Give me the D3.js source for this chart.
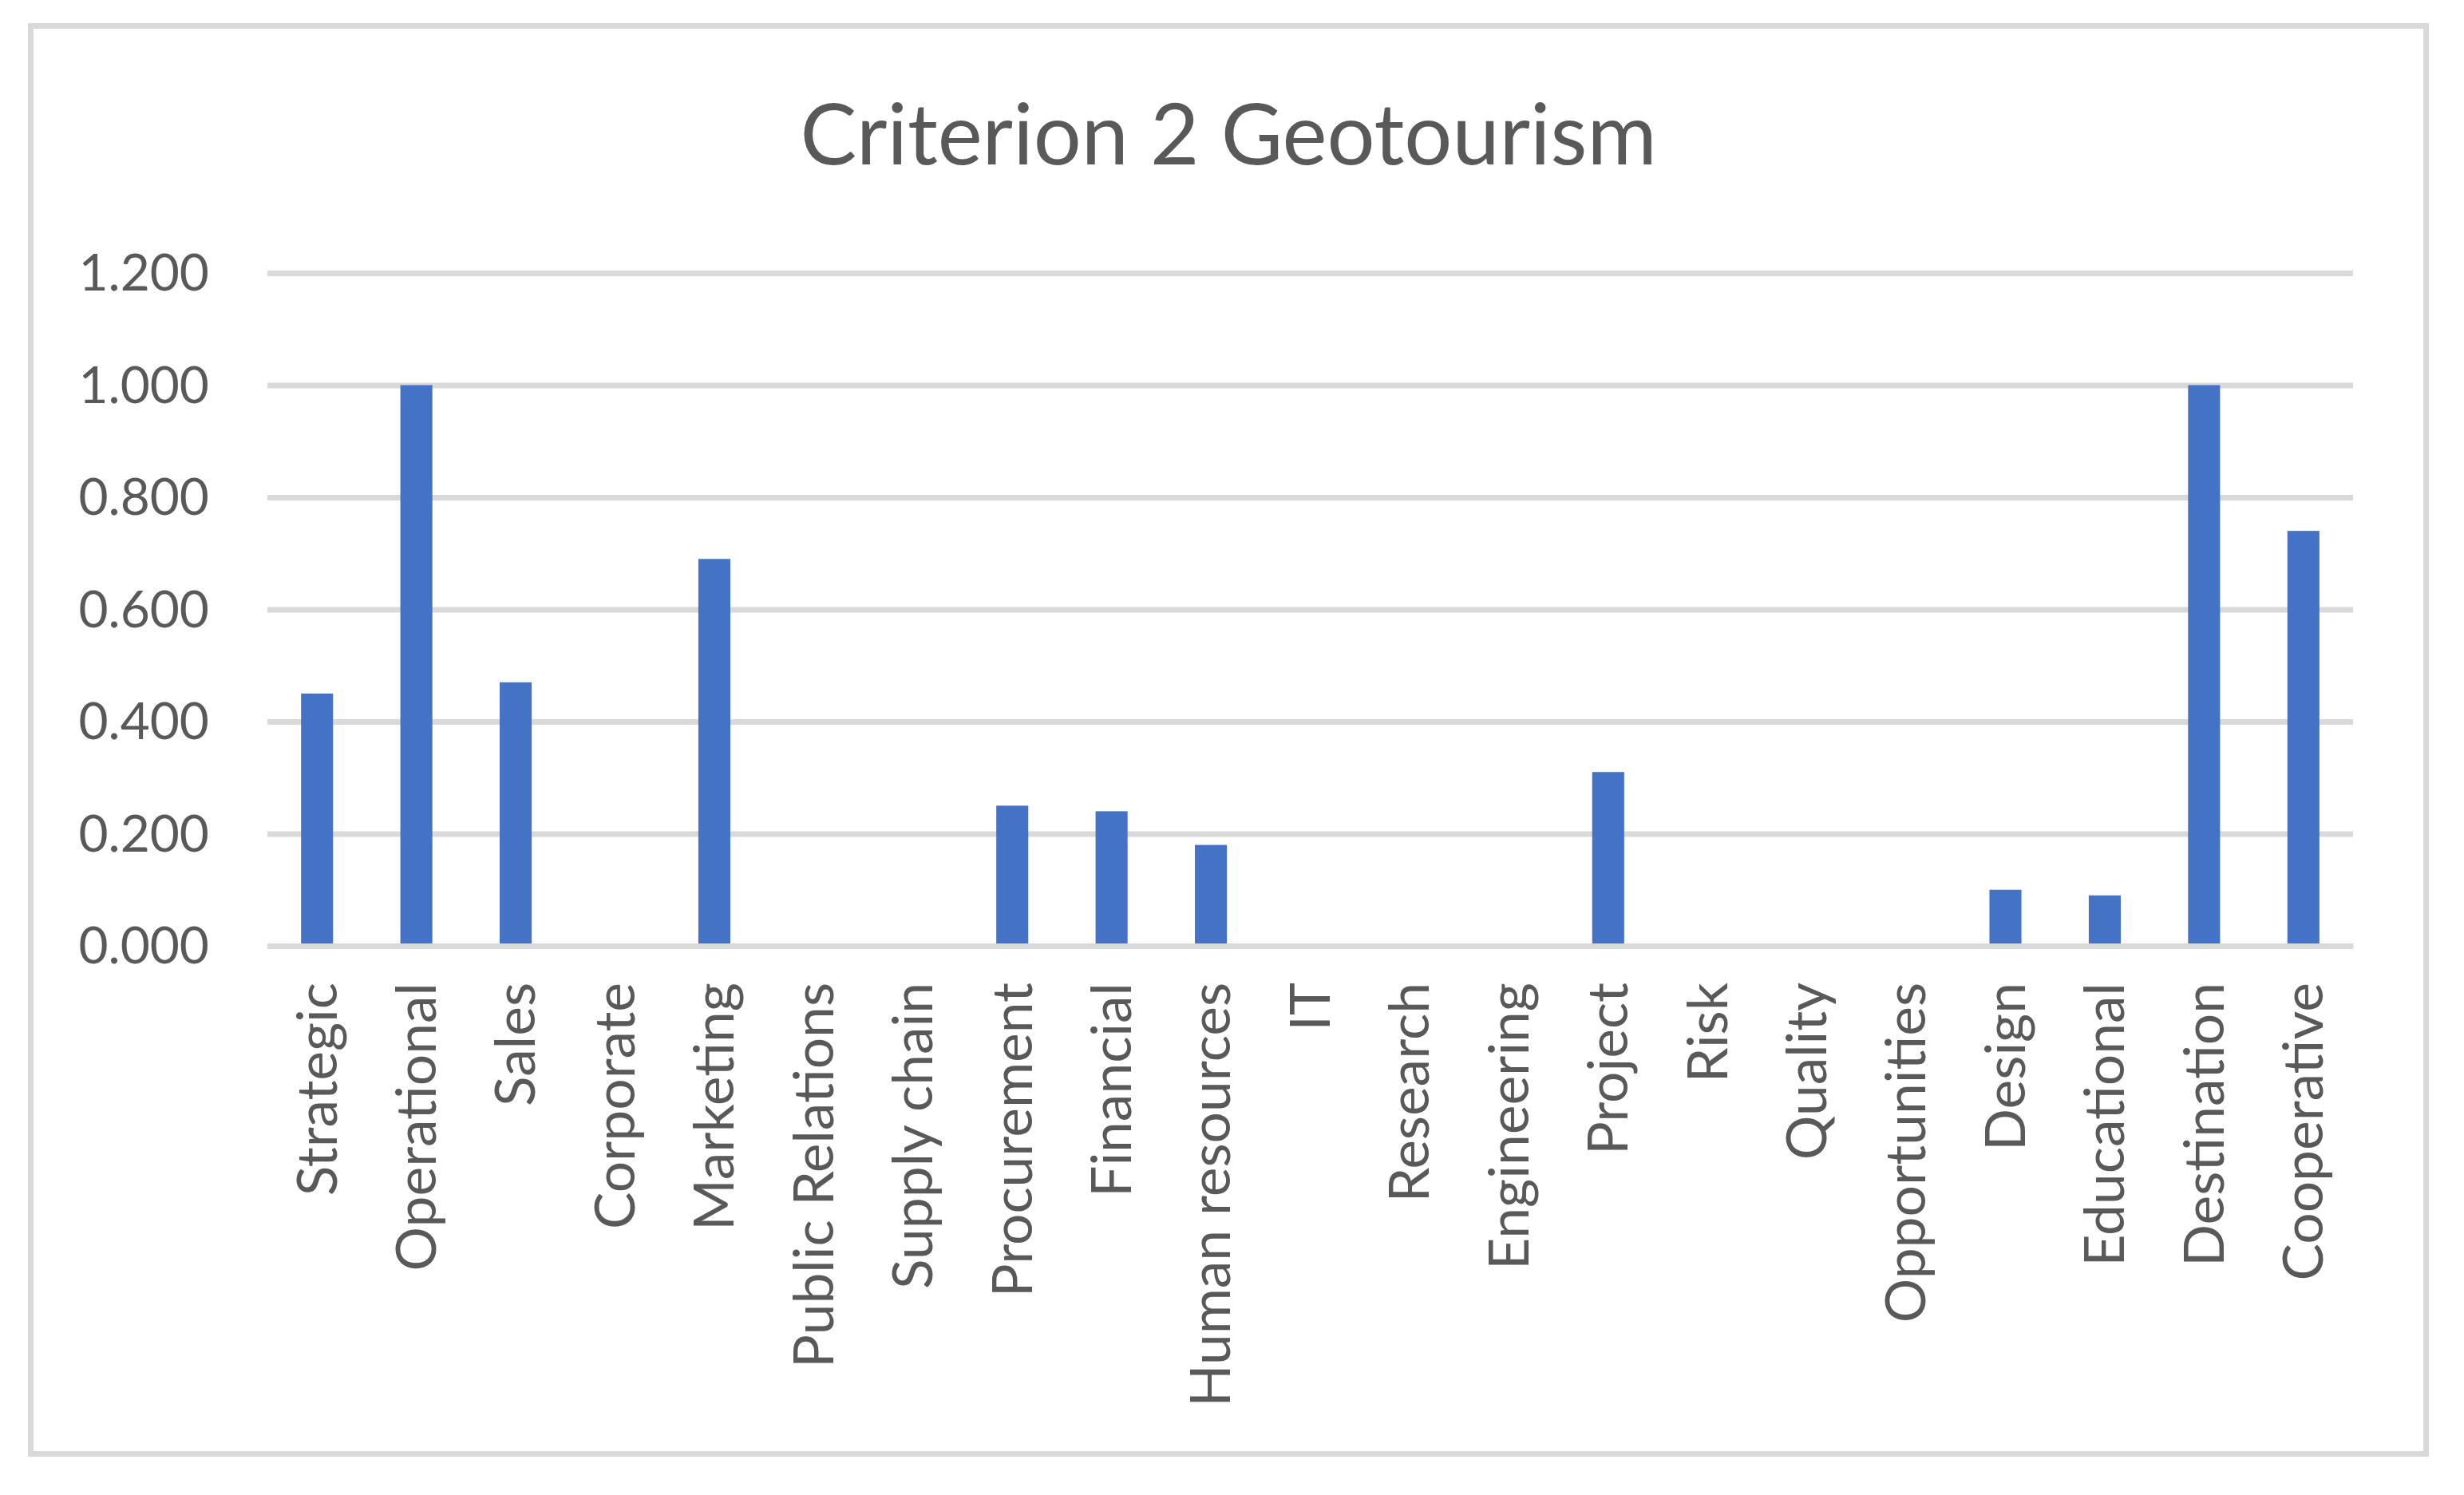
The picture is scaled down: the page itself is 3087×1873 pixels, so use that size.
<!DOCTYPE html>
<html>
<head>
<meta charset="utf-8">
<script src="https://cdn.jsdelivr.net/npm/d3@7"></script>
<style>
  html, body { margin: 0; padding: 0; background: #fff; }
  svg { display: block; }
</style>
</head>
<body>
<div id="chart"></div>
<script>
const title = "Criterion 2 Geotourism";

const categories = [
  "Strategic", "Operational", "Sales", "Corporate", "Marketing",
  "Public Relations", "Supply chain", "Procurement", "Financial",
  "Human resources", "IT", "Research", "Engineering", "Project", "Risk",
  "Quality", "Opportunities", "Design", "Educational", "Destination",
  "Cooperative"
];

const values = [
  0.45, 1.00, 0.47, 0, 0.69,
  0, 0, 0.25, 0.24,
  0.18, 0, 0, 0, 0.31, 0,
  0, 0, 0.10, 0.09, 1.00,
  0.74
];

const yTicks = [0, 0.2, 0.4, 0.6, 0.8, 1.0, 1.2];

const width = 3087;
const height = 1873;
const margin = ({top: 342, right: 139, bottom: 688, left: 335});
const font = "Lato, 'Open Sans', sans-serif";
const textColor = "#595959";
const gridColor = "#d9d9d9";

const data = categories.map((c, i) => ({ c, v: values[i] }));

const xScale = d3.scaleBand()
  .domain(categories)
  .range([margin.left, width - margin.right])
  .paddingInner(0.678)
  .paddingOuter(0.339);

const yScale = d3.scaleLinear()
  .domain([0, 1.2])
  .range([height - margin.bottom, margin.top]);

const svg = d3.select("#chart").append("svg")
  .attr("width", width)
  .attr("height", height)
  .attr("viewBox", [0, 0, width, height]);

svg.append("rect")
  .attr("width", width)
  .attr("height", height)
  .attr("fill", "#fff");

// chart area border
svg.append("rect")
  .attr("x", 38.5)
  .attr("y", 32.5)
  .attr("width", 3001)
  .attr("height", 1789)
  .attr("fill", "none")
  .attr("stroke", gridColor)
  .attr("stroke-width", 7);

svg.append("text")
  .attr("x", 1539)
  .attr("y", 206)
  .attr("text-anchor", "middle")
  .attr("font-family", font)
  .attr("font-size", 106)
  .attr("fill", textColor)
  .text(title);

const yAxis = g => g
  .attr("transform", `translate(${margin.left},0)`)
  .call(d3.axisLeft(yScale)
    .tickValues(yTicks)
    .tickFormat(d3.format(".3f"))
    .tickSize(-(width - margin.left - margin.right))
    .tickPadding(73))
  .call(g => g.select(".domain").remove())
  .call(g => g.selectAll(".tick line")
    .attr("stroke", gridColor)
    .attr("stroke-width", 7))
  .call(g => g.selectAll(".tick text")
    .attr("font-family", font)
    .attr("font-size", 64)
    .attr("fill", textColor)
    .attr("dy", "0.34em"));

svg.append("g").call(yAxis);

svg.append("g")
  .selectAll("rect")
  .data(data)
  .join("rect")
    .attr("x", d => xScale(d.c))
    .attr("y", d => yScale(d.v))
    .attr("width", xScale.bandwidth())
    .attr("height", d => yScale(0) - yScale(d.v))
    .attr("fill", "#4472c4");

const xAxis = g => g
  .attr("transform", `translate(0,${height - margin.bottom})`)
  .call(d3.axisBottom(xScale).tickSize(0).tickSizeOuter(0))
  .call(g => g.select(".domain")
    .attr("stroke", gridColor)
    .attr("stroke-width", 7))
  .call(g => g.selectAll(".tick text")
    .attr("transform", "rotate(-90)")
    .attr("x", -46)
    .attr("y", 0)
    .attr("dy", "0.35em")
    .attr("text-anchor", "end")
    .attr("font-family", font)
    .attr("font-size", 69.5)
    .attr("fill", textColor));

svg.append("g").call(xAxis);
</script>
</body>
</html>
